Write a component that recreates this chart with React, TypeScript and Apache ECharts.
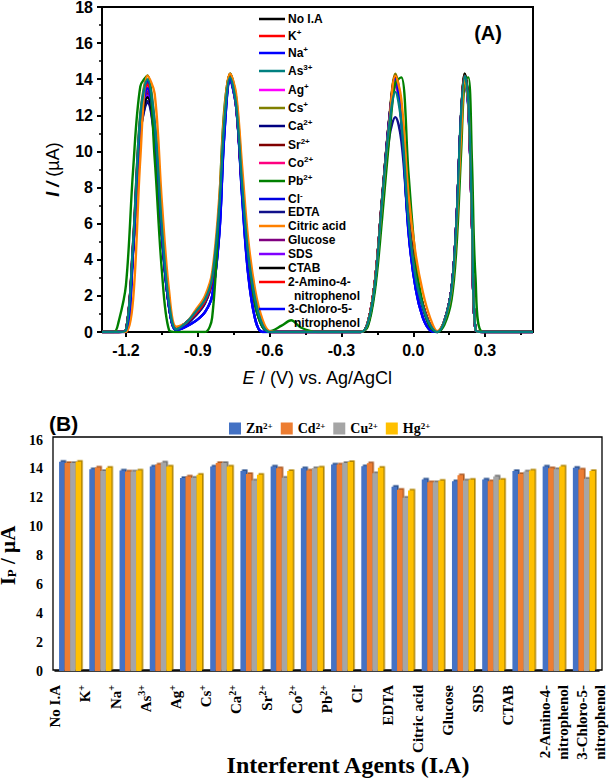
import React, { useEffect, useRef } from 'react';
import * as echarts from 'echarts';

// ---------- Panel (A): DPV curves ----------
const E_V = [
  -1.30, -1.25, -1.23, -1.20, -1.17, -1.14, -1.11, -1.08, -1.05, -1.02,
  -0.99, -0.95, -0.91, -0.87, -0.84, -0.81, -0.79, -0.765, -0.74, -0.715,
  -0.69, -0.66, -0.63, -0.60, -0.55, -0.51, -0.47, -0.40, -0.22, -0.19,
  -0.16, -0.13, -0.10, -0.075, -0.05, -0.02, 0.01, 0.04, 0.07, 0.10,
  0.13, 0.16, 0.18, 0.20, 0.215, 0.23, 0.245, 0.26, 0.29, 0.50,
];

const I_NO_IA = [
  0, 0, 0, 0.1, 4.8, 11.5, 13.0, 11.0, 5.6, 1.5,
  0.15, 0.5, 1.0, 1.7, 2.9, 6.8, 11.6, 14.3, 12.7, 8.0,
  4.2, 1.6, 0.4, 0, 0, 0, 0, 0, 0, 0.5,
  2.8, 7.4, 11.8, 14.0, 12.3, 6.4, 3.2, 1.5, 0.4, 0,
  0.6, 2.4, 6.0, 12.0, 14.3, 12.8, 6.3, 0.1, 0, 0,
];
const I_K = [
  0, 0, 0, 0.1, 4.9, 11.8, 13.8, 11.3, 5.7, 1.5,
  0.15, 0.5, 1.0, 1.7, 2.9, 6.9, 11.6, 14.1, 12.6, 8.0,
  4.2, 1.6, 0.4, 0, 0, 0, 0, 0, 0, 0.5,
  2.8, 7.3, 11.6, 13.8, 12.1, 6.3, 3.1, 1.5, 0.4, 0,
  0.6, 2.4, 6.0, 12.0, 14.2, 12.7, 6.2, 0.1, 0, 0,
];
const I_NA = [
  0, 0, 0, 0, 4.6, 11.8, 13.9, 11.4, 5.5, 1.4,
  0.1, 0.3, 0.6, 1.1, 2.0, 5.5, 10.8, 14.0, 12.6, 7.6,
  3.3, 0.7, 0, 0, 0, 0, 0, 0, 0, 0.4,
  2.6, 7.2, 11.8, 14.0, 11.8, 5.6, 2.4, 0.8, 0.1, 0,
  0.6, 2.4, 6.0, 12.0, 14.0, 12.5, 6.3, 0.1, 0, 0,
];
const I_AS = [
  0, 0, 0, 0.1, 5.0, 12.0, 14.0, 11.6, 5.8, 1.6,
  0.15, 0.5, 1.1, 1.8, 3.0, 7.0, 11.5, 14.1, 12.6, 8.2,
  4.4, 1.8, 0.4, 0, 0, 0, 0, 0, 0, 0.5,
  2.7, 7.3, 11.5, 13.3, 11.6, 6.2, 3.0, 1.4, 0.4, 0,
  0.6, 2.4, 6.0, 12.2, 14.2, 12.8, 6.5, 0.1, 0, 0,
];
const I_AG = [
  0, 0, 0, 0.1, 4.9, 11.7, 13.6, 11.2, 5.6, 1.5,
  0.15, 0.5, 1.0, 1.7, 2.9, 6.9, 11.5, 14.0, 12.5, 8.0,
  4.2, 1.6, 0.4, 0, 0, 0, 0, 0, 0, 0.5,
  2.8, 7.3, 11.5, 13.6, 12.0, 6.3, 3.1, 1.5, 0.4, 0,
  0.6, 2.4, 6.0, 12.0, 14.1, 12.6, 6.2, 0.1, 0, 0,
];
const I_CS = [
  0, 0, 0, 0.1, 5.0, 12.1, 14.2, 11.6, 5.8, 1.6,
  0.15, 0.5, 1.0, 1.7, 2.9, 6.9, 11.7, 14.3, 12.7, 8.1,
  4.3, 1.7, 0.4, 0, 0, 0, 0, 0, 0, 0.5,
  2.8, 7.4, 11.9, 14.3, 12.4, 6.5, 3.2, 1.5, 0.4, 0,
  0.6, 2.4, 6.0, 12.1, 14.3, 12.8, 6.3, 0.1, 0, 0,
];
const I_CA = [
  0, 0, 0, 0.1, 4.6, 11.0, 12.7, 10.6, 5.4, 1.4,
  0.15, 0.4, 0.9, 1.6, 2.8, 6.7, 11.4, 14.0, 12.5, 7.9,
  4.1, 1.5, 0.3, 0, 0, 0, 0, 0, 0, 0.5,
  2.8, 7.3, 11.6, 14.0, 12.0, 6.2, 3.0, 1.4, 0.3, 0,
  0.6, 2.4, 6.0, 12.0, 14.1, 12.6, 6.2, 0.1, 0, 0,
];
const I_SR = [
  0, 0, 0, 0.1, 4.7, 11.3, 13.2, 10.9, 5.5, 1.5,
  0.15, 0.5, 1.0, 1.7, 2.9, 6.8, 11.5, 14.1, 12.6, 8.0,
  4.2, 1.6, 0.4, 0, 0, 0, 0, 0, 0, 0.5,
  2.8, 7.4, 11.8, 14.1, 12.2, 6.4, 3.1, 1.5, 0.4, 0,
  0.6, 2.4, 6.0, 12.0, 14.2, 12.7, 6.2, 0.1, 0, 0,
];
const I_CO = [
  0, 0, 0, 0.1, 4.8, 11.5, 13.4, 11.0, 5.6, 1.5,
  0.15, 0.5, 1.0, 1.7, 2.9, 6.8, 11.5, 14.1, 12.6, 8.0,
  4.2, 1.6, 0.4, 0, 0, 0, 0, 0, 0, 0.5,
  2.8, 7.3, 11.6, 13.8, 12.1, 6.3, 3.1, 1.5, 0.4, 0,
  0.6, 2.4, 6.0, 12.0, 14.2, 12.7, 6.2, 0.1, 0, 0,
];
const I_PB = [
  0, 0, 0.6, 2.6, 9.0, 13.6, 14.2, 9.6, 3.4, 0.1,
  0, 0, 0, 0, 0.8, 7.2, 12.2, 14.3, 13.0, 8.6,
  4.5, 1.5, 0.3, 0.05, 0.35, 0.65, 0.25, 0, 0, 0.3,
  2.3, 6.3, 10.8, 13.8, 14.1, 8.8, 4.0, 1.5, 0.3, 0,
  0.4, 1.8, 4.6, 10.0, 14.0, 14.1, 9.5, 3.0, 0, 0,
];
const I_CL = [
  0, 0, 0, 0, 4.5, 11.6, 13.7, 11.3, 5.4, 1.4,
  0.1, 0.3, 0.6, 1.1, 2.0, 5.4, 10.7, 13.9, 12.5, 7.5,
  3.2, 0.7, 0, 0, 0, 0, 0, 0, 0, 0.4,
  2.6, 7.2, 11.7, 14.0, 11.7, 5.5, 2.4, 0.8, 0.1, 0,
  0.6, 2.4, 6.0, 12.0, 14.0, 12.4, 6.2, 0.1, 0, 0,
];
const I_EDTA = [
  0, 0, 0, 0.1, 4.6, 11.0, 12.8, 10.7, 5.4, 1.4,
  0.15, 0.4, 0.9, 1.6, 2.8, 6.7, 11.4, 14.0, 12.5, 7.9,
  4.1, 1.5, 0.3, 0, 0, 0, 0, 0, 0, 0.5,
  2.7, 7.0, 10.8, 11.9, 10.6, 5.9, 2.9, 1.3, 0.3, 0,
  0.6, 2.4, 6.0, 12.0, 14.0, 12.5, 6.2, 0.1, 0, 0,
];
const I_CITRIC = [
  0, 0, 0, 0, 1.8, 9.6, 14.2, 13.2, 7.2, 2.3,
  0.3, 0.5, 1.2, 2.0, 3.3, 7.5, 12.0, 14.3, 13.2, 9.2,
  5.2, 2.3, 0.7, 0.05, 0, 0, 0, 0, 0, 0.5,
  2.8, 7.2, 11.6, 14.2, 12.9, 7.6, 4.3, 2.2, 0.8, 0.05,
  0.6, 2.3, 5.6, 11.0, 14.0, 12.6, 6.2, 0.1, 0, 0,
];
const I_GLUCOSE = [
  0, 0, 0, 0.1, 4.7, 11.4, 13.3, 11.0, 5.5, 1.5,
  0.15, 0.5, 1.0, 1.7, 2.9, 6.8, 11.5, 14.1, 12.6, 8.0,
  4.2, 1.6, 0.4, 0, 0, 0, 0, 0, 0, 0.5,
  2.8, 7.4, 11.8, 14.0, 12.2, 6.4, 3.1, 1.5, 0.4, 0,
  0.6, 2.4, 6.0, 12.0, 14.2, 12.7, 6.2, 0.1, 0, 0,
];
const I_SDS = [
  0, 0, 0, 0.1, 4.7, 11.3, 13.1, 10.9, 5.5, 1.5,
  0.15, 0.5, 1.0, 1.7, 2.9, 6.8, 11.5, 14.0, 12.5, 8.0,
  4.2, 1.6, 0.4, 0, 0, 0, 0, 0, 0, 0.5,
  2.8, 7.3, 11.7, 13.9, 12.1, 6.3, 3.1, 1.5, 0.4, 0,
  0.6, 2.4, 6.0, 12.0, 14.1, 12.6, 6.2, 0.1, 0, 0,
];
const I_CTAB = [
  0, 0, 0, 0.1, 4.7, 11.3, 13.0, 10.9, 5.5, 1.5,
  0.15, 0.5, 1.0, 1.7, 2.9, 6.8, 11.6, 14.2, 12.7, 8.0,
  4.2, 1.6, 0.4, 0, 0, 0, 0, 0, 0, 0.5,
  2.8, 7.4, 11.8, 14.2, 12.3, 6.4, 3.2, 1.5, 0.4, 0,
  0.6, 2.4, 6.0, 12.0, 14.3, 12.8, 6.3, 0.1, 0, 0,
];
const I_AMINO = [
  0, 0, 0, 0.1, 4.8, 11.6, 13.7, 11.2, 5.6, 1.5,
  0.15, 0.5, 1.0, 1.7, 2.9, 6.9, 11.6, 14.1, 12.6, 8.0,
  4.2, 1.6, 0.4, 0, 0, 0, 0, 0, 0, 0.5,
  2.8, 7.3, 11.7, 13.9, 12.2, 6.3, 3.1, 1.5, 0.4, 0,
  0.6, 2.4, 6.0, 12.0, 14.2, 12.7, 6.2, 0.1, 0, 0,
];
const I_CHLORO = [
  0, 0, 0, 0, 4.5, 11.5, 13.5, 11.2, 5.4, 1.4,
  0.1, 0.3, 0.6, 1.1, 2.0, 5.5, 10.8, 14.0, 12.6, 7.6,
  3.3, 0.7, 0, 0, 0, 0, 0, 0, 0, 0.4,
  2.6, 7.2, 11.8, 14.0, 11.8, 5.6, 2.4, 0.8, 0.1, 0,
  0.6, 2.4, 6.0, 12.0, 14.0, 12.5, 6.3, 0.1, 0, 0,
];

const CURVE_NAMES = [
  'No I.A', 'K+', 'Na+', 'As3+', 'Ag+', 'Cs+', 'Ca2+', 'Sr2+', 'Co2+', 'Pb2+',
  'Cl-', 'EDTA', 'Citric acid', 'Glucose', 'SDS', 'CTAB',
  '2-Amino-4-nitrophenol', '3-Chloro-5-nitrophenol',
];
const CURVE_COLORS = [
  '#000000', '#ff0000', '#0000ff', '#008080', '#ff00ff', '#808000', '#000080', '#800000', '#ff0080', '#008000',
  '#0000e0', '#10108a', '#ff8000', '#800080', '#8000ff', '#000000', '#ff0000', '#0000ff',
];
const CURVE_DATA = [
  I_NO_IA, I_K, I_NA, I_AS, I_AG, I_CS, I_CA, I_SR, I_CO, I_PB,
  I_CL, I_EDTA, I_CITRIC, I_GLUCOSE, I_SDS, I_CTAB, I_AMINO, I_CHLORO,
];

const X_MAJOR = [-1.2, -0.9, -0.6, -0.3, 0, 0.3];
const X_MINOR = [-1.05, -0.75, -0.45, -0.15, 0.15, 0.45];

// ---------- Panel (B): peak currents ----------
const IA_CATEGORIES = [
  'No I.A', 'K+', 'Na+', 'As3+', 'Ag+', 'Cs+', 'Ca2+', 'Sr2+', 'Co2+', 'Pb2+',
  'Cl-', 'EDTA', 'Citric acid', 'Glucose', 'SDS', 'CTAB',
  '2-Amino-4-nitrophenol', '3-Chloro-5-nitrophenol',
];
const METALS = ['Zn2+', 'Cd2+', 'Cu2+', 'Hg2+'];
const IP_ZN = [14.5, 13.97, 13.88, 14.16, 13.36, 14.16, 13.86, 14.16, 14.04, 14.3, 14.18, 12.76, 13.26, 13.15, 13.26, 13.86, 14.16, 14.07];
const IP_CD = [14.4, 14.09, 13.81, 14.3, 13.47, 14.4, 13.65, 14.05, 13.88, 14.3, 14.39, 12.55, 13.08, 13.56, 13.15, 13.65, 14.05, 13.95];
const IP_CU = [14.4, 13.86, 13.81, 14.45, 13.38, 14.4, 13.2, 13.38, 14.04, 14.41, 13.7, 12.0, 13.08, 13.2, 13.47, 13.81, 13.97, 13.31];
const IP_HG = [14.5, 14.07, 13.88, 14.16, 13.59, 14.16, 13.59, 13.86, 14.09, 14.48, 14.07, 12.51, 13.17, 13.24, 13.24, 13.88, 14.16, 13.86];
const IP_DATA = [IP_ZN, IP_CD, IP_CU, IP_HG];
const BAR_COLORS = ['#4472c4', '#ed7d31', '#a5a5a5', '#ffc000'];
const BAR_EDGES = ['#2f528f', '#ae5a21', '#6f6f6f', '#b08400'];

const SANS = '"Liberation Sans", Arial, Helvetica, sans-serif';
const SERIF = '"Liberation Serif", "Times New Roman", Times, serif';

function toRich(name: string): string {
  const m = name.match(/^([A-Za-z]+)(\d?[+\-])$/);
  return m ? `{b|${m[1]}}{s|${m[2]}}` : `{b|${name}}`;
}

function splitNitro(name: string): string[] {
  const m = name.match(/^(.*-)(nitrophenol)$/);
  return m ? [m[1], m[2]] : [name];
}

// category-label placement like the original (single-line labels sit left of the group)
function catLabel(name: string, idx: number): string {
  const parts = splitNitro(name);
  if (parts.length === 1) return `${toRich(name)}\n{e| }`;
  const body = parts.map(toRich).join('\n');
  return idx === IA_CATEGORIES.length - 1 ? `{f| }\n${body}` : body;
}

// legend layout (positions only)
const LEG_Y = [19, 36, 53, 71, 90, 108, 126, 145, 163, 181, 199, 212, 226, 240, 254, 268, 282, 309];

export default function App() {
  const ref = useRef<HTMLDivElement>(null);
  useEffect(() => {
    if (!ref.current) return;
    const chart = echarts.init(ref.current, undefined, { renderer: 'svg' });

    const legRich = {
      b: { fontFamily: SANS, fontWeight: 'bold', fontSize: 12, lineHeight: 16, fill: '#000', verticalAlign: 'middle' },
      s: { fontFamily: SANS, fontWeight: 'bold', fontSize: 8, lineHeight: 6, fill: '#000', verticalAlign: 'top' },
    };

    const graphics: any[] = [];
    CURVE_NAMES.forEach((nm, i) => {
      const y = LEG_Y[i];
      graphics.push({
        type: 'line', z: 10,
        shape: { x1: 259, y1: y, x2: 285, y2: y },
        style: { stroke: CURVE_COLORS[i], lineWidth: 2.5 },
      });
      const parts = splitNitro(nm);
      parts.forEach((p, k) => {
        graphics.push({
          type: 'text', z: 10,
          x: k === 0 ? 288 : 294, y: y + k * 13.5,
          style: { text: toRich(p), rich: legRich, align: 'left', verticalAlign: 'middle' },
        });
      });
    });
    graphics.push({
      type: 'text', z: 10, x: 488, y: 33,
      style: { text: '(A)', font: `bold 20px ${SANS}`, fill: '#000', align: 'center', verticalAlign: 'middle' },
    });
    graphics.push({
      type: 'text', z: 10, x: 49, y: 423,
      style: { text: '(B)', font: `bold 21px ${SANS}`, fill: '#000', align: 'left', verticalAlign: 'middle' },
    });
    graphics.push({
      type: 'text', z: 10, x: 348, y: 765,
      style: { text: 'Interferent Agents (I.A)', font: `bold 24px ${SERIF}`, fill: '#000', align: 'center', verticalAlign: 'middle' },
    });
    graphics.push({
      type: 'rect', z: 0,
      shape: { x: 53, y: 437, width: 549, height: 233 },
      style: { fill: 'none', stroke: '#000', lineWidth: 1.3 },
    });

    const lineSeries = CURVE_NAMES.map((nm, i) => ({
      type: 'line',
      name: nm,
      xAxisIndex: 0,
      yAxisIndex: 0,
      data: E_V.map((e, j) => [e, CURVE_DATA[i][j]]),
      showSymbol: false,
      symbol: 'none',
      smooth: 0.35,
      silent: true,
      z: nm === 'As3+' ? 4 : nm === 'Pb2+' || nm === 'Citric acid' ? 3 : 2,
      lineStyle: { color: CURVE_COLORS[i], width: 2.4 },
      itemStyle: { color: CURVE_COLORS[i] },
    }));

    const barSeries = METALS.map((m, k) => ({
      type: 'bar',
      name: m,
      xAxisIndex: 2,
      yAxisIndex: 1,
      data: IP_DATA[k],
      barGap: '0%',
      barCategoryGap: '27%',
      silent: true,
      z: 3,
      itemStyle: {
        color: BAR_COLORS[k],
        shadowColor: BAR_EDGES[k],
        shadowOffsetX: 1.6,
        shadowOffsetY: -1.6,
        shadowBlur: 0,
      },
    }));

    const option: any = {
      animation: false,
      backgroundColor: '#ffffff',
      grid: [
        { left: 102, right: 78, top: 7, bottom: 447, show: true, borderColor: '#000', borderWidth: 2, backgroundColor: 'transparent', containLabel: false, outerBoundsMode: 'none' },
        { left: 55, right: 12, top: 440, bottom: 108, containLabel: false, outerBoundsMode: 'none' },
      ],
      legend: {
        data: METALS,
        left: 224,
        top: 416,
        icon: 'rect',
        itemWidth: 12,
        itemHeight: 12,
        itemGap: 8,
        selectedMode: false,
        itemStyle: { shadowBlur: 0, shadowOffsetX: 0, shadowOffsetY: 0, shadowColor: 'transparent' },
        formatter: (n: string) => toRich(n),
        textStyle: {
          color: '#000',
          rich: {
            b: { fontFamily: SERIF, fontWeight: 'bold', fontSize: 14, lineHeight: 15, color: '#000', verticalAlign: 'middle' },
            s: { fontFamily: SERIF, fontWeight: 'bold', fontSize: 9, lineHeight: 7, color: '#000', verticalAlign: 'top' },
          },
        },
      },
      xAxis: [
        {
          gridIndex: 0, type: 'value', min: -1.3, max: 0.5,
          axisLine: { show: true, onZero: false, lineStyle: { color: '#000', width: 2 } },
          axisTick: { show: true, customValues: X_MAJOR, length: 5, lineStyle: { color: '#000', width: 2 } },
          axisLabel: {
            customValues: X_MAJOR,
            formatter: (v: number) => v.toFixed(1),
            fontFamily: SANS, fontWeight: 'bold', fontSize: 16, color: '#000', margin: 10,
          },
          splitLine: { show: false },
          name: '{i|E}{n| / (V) vs. Ag/AgCl}',
          nameLocation: 'middle',
          nameGap: 37,
          nameTextStyle: {
            rich: {
              i: { fontFamily: SANS, fontStyle: 'italic', fontSize: 18, color: '#000' },
              n: { fontFamily: SANS, fontSize: 18, color: '#000' },
            },
          },
        },
        {
          gridIndex: 0, type: 'value', min: -1.3, max: 0.5, position: 'bottom',
          axisLine: { show: false, onZero: false },
          axisTick: { show: true, customValues: X_MINOR, length: 3, lineStyle: { color: '#000', width: 2 } },
          axisLabel: { show: false },
          splitLine: { show: false },
        },
        {
          gridIndex: 1, type: 'category', data: IA_CATEGORIES,
          axisLine: { show: true, onZero: false, lineStyle: { color: '#000', width: 1.5 } },
          axisTick: { show: false },
          axisLabel: {
            interval: 0,
            rotate: 90,
            margin: 14,
            formatter: (v: string, idx: number) => catLabel(v, idx),
            rich: {
              b: { fontFamily: SERIF, fontWeight: 'bold', fontSize: 15, lineHeight: 18, color: '#000', verticalAlign: 'middle' },
              s: { fontFamily: SERIF, fontWeight: 'bold', fontSize: 10, lineHeight: 7, color: '#000', verticalAlign: 'top' },
              e: { fontSize: 10, lineHeight: 30 },
              f: { fontSize: 10, lineHeight: 14 },
            },
          },
          splitLine: { show: false },
        },
      ],
      yAxis: [
        {
          gridIndex: 0, type: 'value', min: 0, max: 18, interval: 2,
          axisLine: { show: true, onZero: false, lineStyle: { color: '#000', width: 2 } },
          axisTick: { show: true, length: 5, lineStyle: { color: '#000', width: 2 } },
          minorTick: { show: true, splitNumber: 2, length: 3, lineStyle: { color: '#000', width: 1.5 } },
          axisLabel: { fontFamily: SANS, fontWeight: 'bold', fontSize: 16, lineHeight: 12, color: '#000', margin: 9 },
          splitLine: { show: false },
          minorSplitLine: { show: false },
          name: '{i|I /}{n| (µA)}',
          nameLocation: 'middle',
          nameGap: 40,
          nameTextStyle: {
            rich: {
              i: { fontFamily: SANS, fontStyle: 'italic', fontWeight: 'bold', fontSize: 18, color: '#000' },
              n: { fontFamily: SANS, fontSize: 18, color: '#000' },
            },
          },
        },
        {
          gridIndex: 1, type: 'value', min: 0, max: 16, interval: 2,
          axisLine: { show: false, onZero: false },
          axisTick: { show: false },
          splitLine: { show: false },
          axisLabel: { fontFamily: SERIF, fontWeight: 'bold', fontSize: 14, color: '#000', margin: 12 },
          name: '{b|I}{sub|P}{b| / µA}',
          nameLocation: 'middle',
          nameGap: 15,
          nameTextStyle: {
            rich: {
              b: { fontFamily: SERIF, fontWeight: 'bold', fontSize: 21, lineHeight: 21, color: '#000', verticalAlign: 'middle' },
              sub: { fontFamily: SERIF, fontWeight: 'bold', fontSize: 13, lineHeight: 9, color: '#000', verticalAlign: 'bottom' },
            },
          },
        },
      ],
      graphic: graphics,
      series: [...lineSeries, ...barSeries],
    };
    chart.setOption(option);
    return () => chart.dispose();
  }, []);

  return (
    <div
      ref={ref}
      style={{ position: 'fixed', left: 0, top: 0, width: 611, height: 779, background: '#fff' }}
    />
  );
}
